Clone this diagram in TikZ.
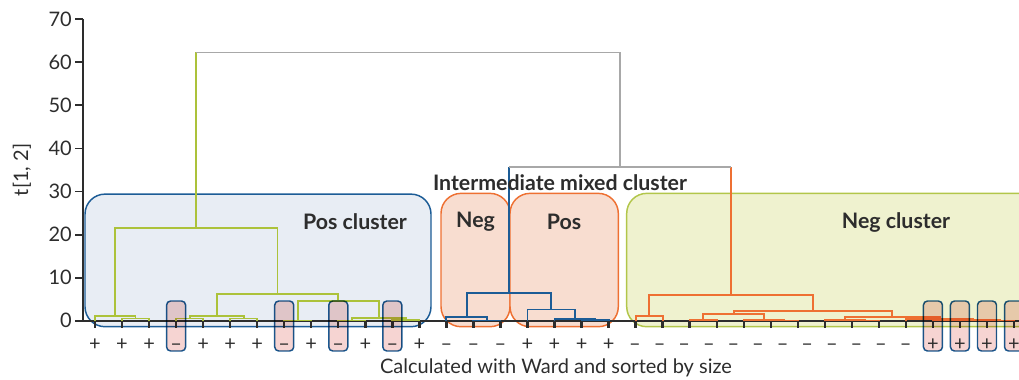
\documentclass[tikz,border=0pt]{standalone}
\usepackage{fontspec}
\setmainfont{Lato}

\definecolor{linkgreen}{RGB}{172,194,58}
\definecolor{linkblue}{RGB}{28,92,150}
\definecolor{linkorange}{RGB}{238,112,50}
\definecolor{linkgray}{RGB}{168,168,168}
\definecolor{posfill}{RGB}{232,237,244}
\definecolor{mixfill}{RGB}{248,221,208}
\definecolor{negfill}{RGB}{239,242,207}
\definecolor{negedge}{RGB}{178,198,74}
\definecolor{oddfill}{RGB}{246,212,210}
\definecolor{inkgray}{RGB}{45,45,45}

\begin{document}
\begin{tikzpicture}[x=0.75pt, y=3.2295pt,
    link/.style={line width=1.4pt},
    axis line/.style={line width=1.4pt, inkgray},
    leaf tick/.style={line width=1.8pt, inkgray},
    region/.style={rounded corners=15pt, line width=1.1pt},
    odd leaf/.style={draw=linkblue, fill=oddfill, blend mode=multiply, rounded corners=3pt,
        line width=1.1pt, minimum width=14.25pt, minimum height=37.5pt, inner sep=0pt},
    region label/.style={font=\fontsize{16}{18}\selectfont\bfseries, text=inkgray},
    tick label/.style={font=\fontsize{15}{17}\selectfont, text=inkgray, anchor=east, inner sep=0pt},
    sign/.style={font=\fontsize{15}{17}\selectfont, text=inkgray, anchor=base, inner sep=0pt}]
    \useasboundingbox (0,-13.54) rectangle (1019,74.48);
    \clip (0,-13.54) rectangle (1019,74.48);

    % cluster regions
    \draw[region, draw=linkblue, fill=posfill] (85,29.4) rectangle (431,-1.39);
    \draw[region, draw=linkorange, fill=mixfill] (441,29.57) rectangle (510,-1.39);
    \draw[region, draw=linkorange, fill=mixfill] (510,29.57) rectangle (618.3,-1.39);
    \draw[region, draw=negedge, fill=negfill] (626.7,29.57) rectangle (1050,-1.39);

    % axes
    \draw[axis line] (82.7,0) -- (82.7,70);
    \draw[axis line] (82.7,0) -- (1019,0);
    \foreach \v in {0,10,...,70} {
        \draw[axis line] (75,\v) -- (82.7,\v);
        \node[tick label] (ytick\v) at (72,\v) {\v};
    }
    \node[font=\fontsize{15}{17}\selectfont, text=inkgray, rotate=90] (ylabel) at (22,35) {t[1, 2]};

    % leaves
    \foreach \i in {0,...,34} {
        \coordinate (leaf\i) at ({95+27.03*\i},0);
        \draw[leaf tick] (leaf\i) -- ++(0,-1.8);
    }

    % merges, positive cluster
    \coordinate (g1) at (135.55,0.5);
    \coordinate (g2) at (115.27,1.1);
    \coordinate (g3) at (189.6,0.5);
    \coordinate (g4) at (243.67,0.5);
    \coordinate (g5) at (216.64,1.1);
    \coordinate (g6) at (297.73,0.05);
    \coordinate (g7) at (351.79,0.05);
    \coordinate (g8) at (405.85,0.1);
    \coordinate (g9) at (378.82,0.6);
    \coordinate (g10) at (338.27,4.6);
    \coordinate (g11) at (277.45,6.2);
    \coordinate (g12) at (196.36,21.5);

    % merges, mixed cluster
    \coordinate (b1) at (486.94,0.05);
    \coordinate (b2) at (466.66,0.8);
    \coordinate (b3) at (595.06,0.1);
    \coordinate (b4) at (574.78,0.4);
    \coordinate (b5) at (551.13,2.6);
    \coordinate (b6) at (508.9,6.5);

    % merges, negative cluster
    \coordinate (o1) at (649.1,1.0);
    \coordinate (o2) at (703.18,0.2);
    \coordinate (o3) at (784.27,0.05);
    \coordinate (o4) at (763.99,0.1);
    \coordinate (o5) at (733.58,1.5);
    \coordinate (o6) at (865.36,0.05);
    \coordinate (o7) at (845.08,0.2);
    \coordinate (o8) at (946.45,0.05);
    \coordinate (o9) at (1000.5,0.05);
    \coordinate (o10) at (973.48,0.1);
    \coordinate (o11) at (939.69,0.3);
    \coordinate (o12) at (892.38,0.8);
    \coordinate (o13) at (812.98,2.3);
    \coordinate (o14) at (731.04,6.0);

    \coordinate (mid) at (620,35.7);
    \coordinate (root) at (408.18,62.3);

    \draw[link, linkgreen] (leaf1) |- (g1) -| (leaf2);
    \draw[link, linkgreen] (leaf0) |- (g2) -| (g1);
    \draw[link, linkgreen] (leaf3) |- (g3) -| (leaf4);
    \draw[link, linkgreen] (leaf5) |- (g4) -| (leaf6);
    \draw[link, linkgreen] (g3) |- (g5) -| (g4);
    \draw[link, linkgreen] (leaf7) |- (g6) -| (leaf8);
    \draw[link, linkgreen] (leaf9) |- (g7) -| (leaf10);
    \draw[link, linkgreen] (leaf11) |- (g8) -| (leaf12);
    \draw[link, linkgreen] (g7) |- (g9) -| (g8);
    \draw[link, linkgreen] (g6) |- (g10) -| (g9);
    \draw[link, linkgreen] (g5) |- (g11) -| (g10);
    \draw[link, linkgreen] (g2) |- (g12) -| (g11);

    \draw[link, linkblue] (leaf14) |- (b1) -| (leaf15);
    \draw[link, linkblue] (leaf13) |- (b2) -| (b1);
    \draw[link, linkblue] (leaf18) |- (b3) -| (leaf19);
    \draw[link, linkblue] (leaf17) |- (b4) -| (b3);
    \draw[link, linkblue] (leaf16) |- (b5) -| (b4);
    \draw[link, linkblue] (b2) |- (b6) -| (b5);

    \draw[link, linkorange] (leaf20) |- (o1) -| (leaf21);
    \draw[link, linkorange] (leaf22) |- (o2) -| (leaf23);
    \draw[link, linkorange] (leaf25) |- (o3) -| (leaf26);
    \draw[link, linkorange] (leaf24) |- (o4) -| (o3);
    \draw[link, linkorange] (o2) |- (o5) -| (o4);
    \draw[link, linkorange] (leaf28) |- (o6) -| (leaf29);
    \draw[link, linkorange] (leaf27) |- (o7) -| (o6);
    \draw[link, linkorange] (leaf31) |- (o8) -| (leaf32);
    \draw[link, linkorange] (leaf33) |- (o9) -| (leaf34);
    \draw[link, linkorange] (o8) |- (o10) -| (o9);
    \draw[link, linkorange] (leaf30) |- (o11) -| (o10);
    \draw[link, linkorange] (o7) |- (o12) -| (o11);
    \draw[link, linkorange] (o5) |- (o13) -| (o12);
    \draw[link, linkorange] (o1) |- (o14) -| (o13);

    % top links
    \draw[link, linkblue] (b6) -- (b6 |- mid);
    \draw[link, linkorange] (o14) -- (o14 |- mid);
    \draw[link, linkgray] (b6 |- mid) -- (o14 |- mid);
    \draw[link, linkgreen] (g12) -- (g12 |- root);
    \draw[link, linkgray] (g12 |- root) -| (mid);

    % leaves of the other sign
    \node[odd leaf] (odd3) at (leaf3 |- 0,-1.23) {};
    \node[odd leaf] (odd7) at (leaf7 |- 0,-1.23) {};
    \node[odd leaf] (odd9) at (leaf9 |- 0,-1.23) {};
    \node[odd leaf] (odd11) at (leaf11 |- 0,-1.23) {};
    \node[odd leaf] (odd31) at (leaf31 |- 0,-1.23) {};
    \node[odd leaf] (odd32) at (leaf32 |- 0,-1.23) {};
    \node[odd leaf] (odd33) at (leaf33 |- 0,-1.23) {};
    \node[odd leaf] (odd34) at (leaf34 |- 0,-1.23) {};

    % leaf signs
    \foreach \x/\s [count=\n] in {95/+,122.03/+,149.06/+,176.09/--,203.12/+,230.15/+,257.18/+,
        284.21/--,311.24/+,338.27/--,365.3/+,392.33/--,419.36/+,
        446.39/--,473.42/--,500.45/--,527.48/+,554.51/+,581.54/+,608.57/+,
        635/--,659.6/--,684.2/--,708.8/--,733.4/--,758/--,782.6/--,807.2/--,831.8/--,856.4/--,881/--,905.6/--,
        932.93/+,959.96/+,986.99/+,1014.02/+}
        \node[sign] (sign\n) at (\x,-6.85) {\s};

    % region labels
    \node[region label] (poslabel) at (355,22.9) {Pos cluster};
    \node[region label] (mixneg) at (475.5,22.9) {Neg};
    \node[region label] (mixpos) at (564,22.9) {Pos};
    \node[region label] (neglabel) at (896,22.7) {Neg cluster};
    \node[region label] (mixlabel) at (560,31.98) {Intermediate mixed cluster};

    \node[font=\fontsize{15}{17}\selectfont, text=inkgray] (caption) at (556,-10.98) {Calculated with Ward and sorted by size};
\end{tikzpicture}
\end{document}
